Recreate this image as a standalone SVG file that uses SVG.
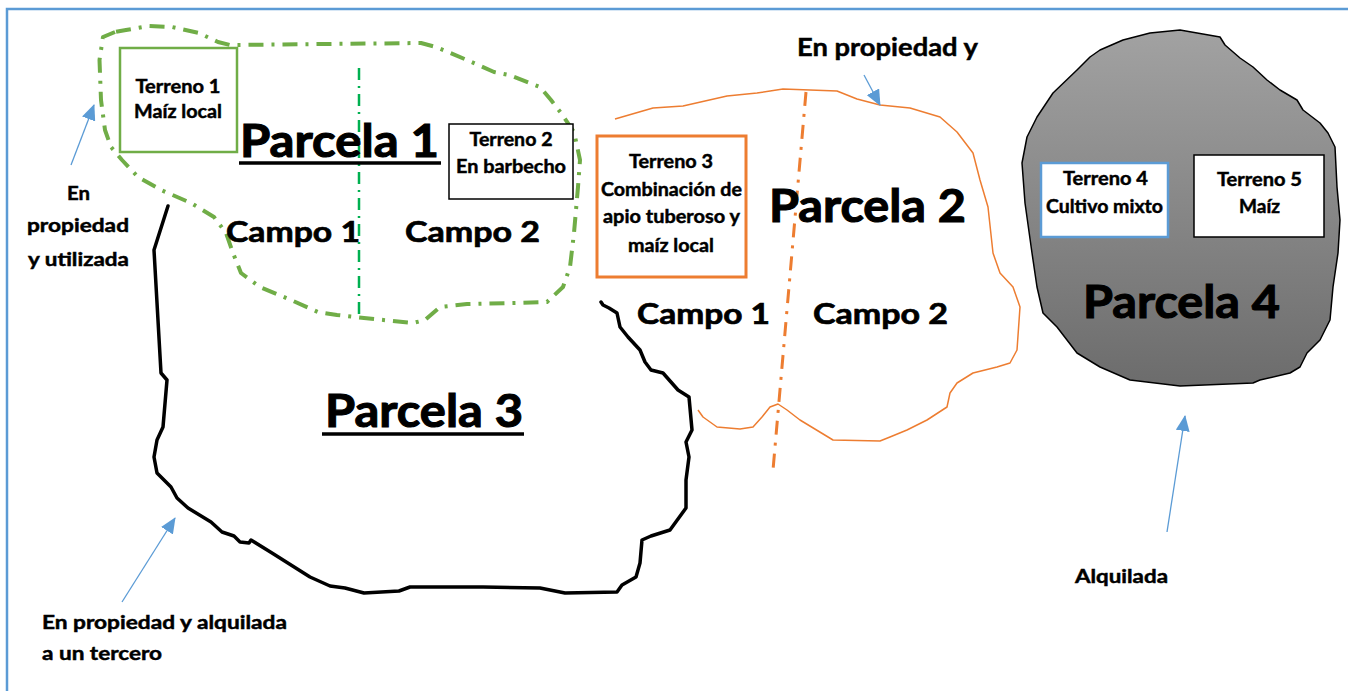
<svg xmlns="http://www.w3.org/2000/svg" width="1348" height="691" viewBox="0 0 1348 691">
<defs>
<linearGradient id="grayFill" x1="0" y1="0" x2="0" y2="1">
<stop offset="0" stop-color="#a2a2a2"/>
<stop offset="1" stop-color="#6c6c6c"/>
</linearGradient>
<marker id="arrowHead" markerUnits="userSpaceOnUse" markerWidth="16" markerHeight="14" refX="15" refY="7" orient="auto">
<path d="M0,0 L16,7 L0,14 Z" fill="#5B9BD5"/>
</marker>
</defs>
<style>
.t{font-family:Lato,"Liberation Sans",sans-serif;font-weight:bold;fill:#000;stroke:#000;stroke-width:0.45;}
.s{font-size:18px;}
.m{font-size:29px;stroke-width:0.7;}
.b{font-size:46px;stroke-width:1.1;}
.box{fill:#fff;}
.arrow{stroke:#5B9BD5;stroke-width:1.3;fill:none;marker-end:url(#arrowHead);}
.frame{stroke:#5B9BD5;stroke-width:2.5;fill:none;}
</style>
<rect width="1348" height="691" fill="#fff"/>
<path class="frame" d="M7,691 L7,9 L1348,9"/>

<g id="parcela3">
<polyline fill="none" stroke="#000" stroke-width="3.5" stroke-linejoin="round" stroke-linecap="round" points="168,206 154,250 161,373 167,380 163,427 157,440 154,457 157,473 171,487 177,498 188,508 211,522 222,532 234,536 240,542 249,543 251,540 272,553 310,577 330,586 345,588 364,593 399,591 410,587 483,587 540,588 565,593 617,592 622,585 636,577 640,563 642,540 651,536 670,530 686,508 686,480 689,457 686,442 692,430 689,397 678,390 663,373 651,370 645,362 640,350 628,337 620,327 617,313 609,308 603,305 601,302"/>
<text class="t b" x="424" y="427" text-anchor="middle" textLength="198" lengthAdjust="spacingAndGlyphs">Parcela 3</text>
<line x1="322" y1="434" x2="524" y2="434" stroke="#000" stroke-width="3.5"/>
</g>

<g id="parcela1">
<polygon fill="none" stroke="#70AD47" stroke-width="4" stroke-dasharray="15 8 3 8" stroke-linejoin="round" points="115,32 103,37 99.5,60 101,100 105,130 111,147 122,160 138,177 161,190 191,203 214,217 226,233 233,253 241,273 260,287 291,300 318,312 337,315 364,318 413,323 425,320 440,307 467,304 513,303 547,302 563,287 570,267 574,233 578,187 580,160 574,132 561,113 551,100 540,87 509,75 494,72 467,60 436,47 421,43 230,45 218,42 199,33 172,27 149,26 126,30"/>
<line x1="359" y1="68" x2="359" y2="318" stroke="#00B050" stroke-width="2.5" stroke-dasharray="12 6 2 6"/>
<text class="t b" x="339.5" y="157" text-anchor="middle" textLength="199" lengthAdjust="spacingAndGlyphs">Parcela 1</text>
<line x1="239" y1="163" x2="441" y2="163" stroke="#000" stroke-width="3.5"/>
<text class="t m" x="293" y="242" text-anchor="middle" textLength="134" lengthAdjust="spacingAndGlyphs">Campo 1</text>
<text class="t m" x="472.5" y="242" text-anchor="middle" textLength="135" lengthAdjust="spacingAndGlyphs">Campo 2</text>
</g>

<g id="terreno1">
<rect class="box" x="120" y="48" width="117" height="104" stroke="#70AD47" stroke-width="2.5"/>
<text class="t s" x="178" y="93" text-anchor="middle" textLength="85" lengthAdjust="spacingAndGlyphs">Terreno 1</text>
<text class="t s" x="178" y="118" text-anchor="middle" textLength="88" lengthAdjust="spacingAndGlyphs">Maíz local</text>
</g>

<g id="terreno2">
<rect class="box" x="449" y="124" width="124" height="75" stroke="#000" stroke-width="1.5"/>
<text class="t s" x="511" y="146" text-anchor="middle" textLength="83" lengthAdjust="spacingAndGlyphs">Terreno 2</text>
<text class="t s" x="511" y="173" text-anchor="middle" textLength="110" lengthAdjust="spacingAndGlyphs">En barbecho</text>
</g>

<g id="parcela2">
<polyline fill="none" stroke="#ED7D31" stroke-width="1.5" stroke-linejoin="round" points="615,119 653,108 683,106 727,96 757,93 783,89 837,91 857,99 880,105 910,108 940,117 957,132 973,153 980,180 988,207 993,253 1000,273 1013,287 1020,307 1017,350 1010,363 997,367 973,373 957,383 950,393 947,407 927,420 907,430 890,437 880,441 833,440 800,420 787,410 778,404 770,407 762,417 753,427 740,429 717,427 703,417 698,410"/>
<line x1="806" y1="92" x2="773" y2="470" stroke="#ED7D31" stroke-width="3" stroke-dasharray="14 8 3 8"/>
<text class="t b" x="867.5" y="222" text-anchor="middle" textLength="197" lengthAdjust="spacingAndGlyphs">Parcela 2</text>
<text class="t m" x="703.5" y="324" text-anchor="middle" textLength="133" lengthAdjust="spacingAndGlyphs">Campo 1</text>
<text class="t m" x="880.5" y="324" text-anchor="middle" textLength="135" lengthAdjust="spacingAndGlyphs">Campo 2</text>
</g>

<g id="terreno3">
<rect class="box" x="597" y="136" width="149" height="141" stroke="#ED7D31" stroke-width="3"/>
<text class="t s" x="671" y="168" text-anchor="middle" textLength="84" lengthAdjust="spacingAndGlyphs">Terreno 3</text>
<text class="t s" x="671.5" y="196" text-anchor="middle" textLength="141" lengthAdjust="spacingAndGlyphs">Combinación de</text>
<text class="t s" x="671.5" y="223" text-anchor="middle" textLength="137" lengthAdjust="spacingAndGlyphs">apio tuberoso y</text>
<text class="t s" x="671" y="252" text-anchor="middle" textLength="86" lengthAdjust="spacingAndGlyphs">maíz local</text>
</g>

<g id="parcela4">
<polygon fill="url(#grayFill)" stroke="#000" stroke-width="1.5" stroke-linejoin="round" points="1100,50 1123,40 1150,33 1180,30 1220,37 1225,45 1240,58 1253,67 1267,80 1280,90 1297,100 1303,110 1320,123 1328,133 1335,147 1337,187 1340,220 1338,253 1333,287 1330,320 1320,340 1307,353 1300,367 1290,373 1260,380 1253,383 1180,386 1130,380 1100,367 1077,353 1057,327 1043,313 1037,287 1032,253 1025,203 1022,163 1027,137 1037,117 1053,93 1077,70 1090,57"/>
<text class="t b" x="1181.5" y="318" text-anchor="middle" textLength="197" lengthAdjust="spacingAndGlyphs">Parcela 4</text>
</g>

<g id="terreno4">
<rect class="box" x="1041" y="163" width="127" height="74" stroke="#5B9BD5" stroke-width="2.5"/>
<text class="t s" x="1105.5" y="185" text-anchor="middle" textLength="85" lengthAdjust="spacingAndGlyphs">Terreno 4</text>
<text class="t s" x="1104.5" y="213" text-anchor="middle" textLength="117" lengthAdjust="spacingAndGlyphs">Cultivo mixto</text>
</g>

<g id="terreno5">
<rect class="box" x="1194" y="155" width="130" height="82" stroke="#000" stroke-width="1.5"/>
<text class="t s" x="1259.5" y="186" text-anchor="middle" textLength="85" lengthAdjust="spacingAndGlyphs">Terreno 5</text>
<text class="t s" x="1259.5" y="213" text-anchor="middle" textLength="41" lengthAdjust="spacingAndGlyphs">Maíz</text>
</g>

<g id="labels">
<text class="t s" x="78.5" y="200" text-anchor="middle" textLength="23" lengthAdjust="spacingAndGlyphs">En</text>
<text class="t s" x="78" y="232" text-anchor="middle" textLength="102" lengthAdjust="spacingAndGlyphs">propiedad</text>
<text class="t s" x="78.5" y="266" text-anchor="middle" textLength="101" lengthAdjust="spacingAndGlyphs">y utilizada</text>
<text class="t s" x="42" y="629" textLength="245" lengthAdjust="spacingAndGlyphs">En propiedad y alquilada</text>
<text class="t s" x="42" y="660" textLength="120" lengthAdjust="spacingAndGlyphs">a un tercero</text>
<text class="t" x="797" y="56" font-size="24" stroke-width="0.6" textLength="181" lengthAdjust="spacingAndGlyphs">En propiedad y</text>
<text class="t s" x="1075" y="583" textLength="93" lengthAdjust="spacingAndGlyphs">Alquilada</text>
</g>

<g id="connectors">
<line class="arrow" x1="71" y1="165" x2="94" y2="105"/>
<line class="arrow" x1="122" y1="602" x2="175" y2="518"/>
<line class="arrow" x1="864" y1="75" x2="880" y2="105"/>
<line class="arrow" x1="1167" y1="532" x2="1185" y2="416"/>
</g>
</svg>
